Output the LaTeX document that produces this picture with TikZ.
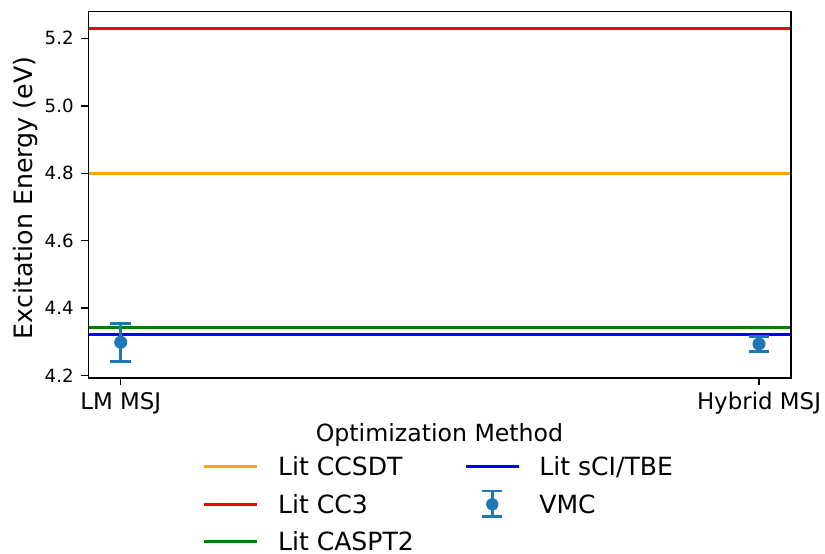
\documentclass[tikz,border=0pt]{standalone}
\usepackage{fontspec}
\setmainfont{DejaVu Sans}
\usepackage{xcolor}

\definecolor{litorange}{HTML}{FFA500}
\definecolor{litred}{HTML}{FF0000}
\definecolor{litgreen}{HTML}{008000}
\definecolor{litblue}{HTML}{0000FF}
\definecolor{vmcblue}{HTML}{1F77B4}

% energy (eV) to picture y
\newcommand{\ey}[1]{375.7-(#1-4.2)*337.4}

\begin{document}
\begin{tikzpicture}[x=0.55pt, y=-0.55pt,
    litline/.style={line width=1.5pt},
    errbar/.style={vmcblue, line width=1.5pt},
    axisline/.style={line width=0.8pt, line cap=rect},
    yticklabel/.style={anchor=east, inner sep=0pt, font=\fontsize{10}{12}\selectfont},
    xticklabel/.style={anchor=base, inner sep=0pt, font=\fontsize{12.6}{15}\selectfont},
    legendtext/.style={anchor=base west, inner sep=0pt, font=\fontsize{13.8}{16}\selectfont}]
    \useasboundingbox (0,0) rectangle (825,554);

    % literature values
    \draw[litline, litred] (88.5,{\ey{5.23}}) -- (790.9,{\ey{5.23}});
    \draw[litline, litorange] (88.5,{\ey{4.80}}) -- (790.9,{\ey{4.80}});
    \draw[litline, litgreen] (88.5,{\ey{4.342}}) -- (790.9,{\ey{4.342}});
    \draw[litline, litblue] (88.5,{\ey{4.322}}) -- (790.9,{\ey{4.322}});

    % VMC points with error bars
    \draw[errbar] (120.7,{\ey{4.355}}) -- (120.7,{\ey{4.2415}});
    \draw[errbar] (110.4,{\ey{4.355}}) -- (131.0,{\ey{4.355}});
    \draw[errbar] (110.4,{\ey{4.2415}}) -- (131.0,{\ey{4.2415}});
    \fill[vmcblue] (120.7,{\ey{4.299}}) circle (3.6pt);
    \draw[errbar] (759,{\ey{4.316}}) -- (759,{\ey{4.271}});
    \draw[errbar] (748.7,{\ey{4.316}}) -- (769.3,{\ey{4.316}});
    \draw[errbar] (748.7,{\ey{4.271}}) -- (769.3,{\ey{4.271}});
    \fill[vmcblue] (759,{\ey{4.294}}) circle (3.6pt);

    % axes
    \draw[axisline] (88.5,11.7) rectangle (790.9,378);
    \foreach \v in {4.2,4.4,4.6,4.8,5.0,5.2} {
        \draw[axisline] (88.5,{\ey{\v}}) -- ++(-6.3,0);
        \node[yticklabel] at (74,{\ey{\v}}) {\v};
    }
    \draw[axisline] (120.7,378) -- ++(0,6.3);
    \draw[axisline] (759,378) -- ++(0,6.3);
    \node (lmlabel) [xticklabel] at (120.7,410) {LM MSJ};
    \node (hybridlabel) [xticklabel] at (759,409.5) {Hybrid MSJ};

    \node (xlabel) [anchor=base, inner sep=0pt, font=\fontsize{13}{15}\selectfont] at (439.5,441.7) {Optimization Method};
    \node (ylabel) [anchor=base, rotate=90, inner sep=0pt, font=\fontsize{13.9}{16}\selectfont] at (32.3,198) {Excitation Energy (eV)};

    % legend
    \draw[litline, litorange] (204,466.7) -- (257,466.7);
    \node (legccsdt) [legendtext] at (277.7,475.9) {Lit CCSDT};
    \draw[litline, litred] (204,504.3) -- (257,504.3);
    \node (legcc3) [legendtext] at (277.7,513.5) {Lit CC3};
    \draw[litline, litgreen] (204,541.7) -- (257,541.7);
    \node (legcaspt2) [legendtext] at (277.7,550.7) {Lit CASPT2};
    \draw[litline, litblue] (465.7,466.7) -- (519,466.7);
    \node (legsci) [legendtext] at (539,475.9) {Lit sCI/TBE};
    \draw[errbar] (492.3,491) -- (492.3,516.7);
    \draw[errbar] (482.3,491) -- (502.3,491);
    \draw[errbar] (482.3,516.7) -- (502.3,516.7);
    \fill[vmcblue] (492.3,504.3) circle (3.4pt);
    \node (legvmc) [legendtext] at (539,513.5) {VMC};
\end{tikzpicture}
\end{document}
